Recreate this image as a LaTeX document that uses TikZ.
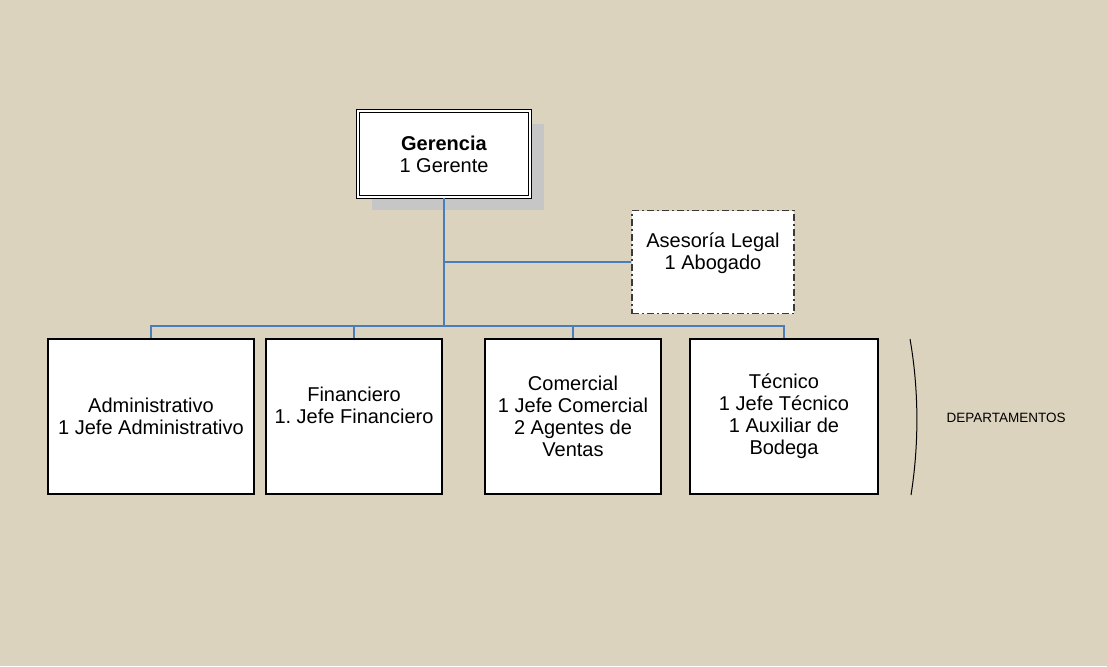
\documentclass[tikz,border=0pt]{standalone}
\usepackage{fontspec}
\setmainfont{Liberation Sans}
\usetikzlibrary{shadows}
\frenchspacing

\definecolor{paper}{HTML}{DCD3BF}
\definecolor{linkblue}{HTML}{4A7EBB}
\definecolor{shadowgray}{HTML}{C6C6C6}
\definecolor{dashgray}{HTML}{3A3A3A}

\tikzset{
  dept/.style={draw=black, fill=white, line width=1.3pt, inner sep=0pt,
    minimum width=#1, minimum height=155pt, align=center,
    font=\fontsize{20}{22}\selectfont},
  link/.style={draw=linkblue, line width=1.5pt},
}

\begin{document}
\begin{tikzpicture}[x=1pt,y=-1pt]
            % draw background
            \fill[paper] (0,0) rectangle (1107,666);

            % place top box and legal advice
            \node[draw=black, fill=white, line width=1pt, double, double distance=2pt,
                  inner sep=0pt, minimum width=172pt, minimum height=86pt, align=center,
                  font=\fontsize{20}{22}\selectfont,
                  general shadow={fill=shadowgray, shadow xshift=14pt, shadow yshift=-13pt}]
                (ger) at (444,154) {\textbf{Gerencia}\\1 Gerente};
            \node[draw=dashgray, fill=white, line width=1.5pt,
                  dash pattern=on 7pt off 3pt on 2pt off 3pt,
                  inner sep=0pt, minimum width=162pt, minimum height=103pt, align=center,
                  font=\fontsize{20}{22}\selectfont]
                (ase) at (713,262) {Asesoría Legal\\1 Abogado\\\mbox{}};

            % place departments
            \node[dept=206pt] (adm) at (151,416.5) {Administrativo\\1 Jefe Administrativo};
            \node[dept=176pt] (fin) at (354,416.5) {Financiero\\1. Jefe Financiero\\\mbox{}};
            \node[dept=176pt] (com) at (573,416.5) {Comercial\\1 Jefe Comercial\\2 Agentes de\\Ventas};
            \node[dept=188pt, line width=2.8pt] (tec) at (784,416.5) {Técnico\\1 Jefe Técnico\\1 Auxiliar de\\Bodega};

            % draw connectors
            \coordinate (bus) at (444,326);
            \draw[link] (ger.south) -- (bus);
            \draw[link] (ger.south |- ase.west) -- (ase.west);
            \draw[link] (adm.north) |- (bus) -| (tec.north);
            \draw[link] (fin.north) -- (fin.north |- bus);
            \draw[link] (com.north) -- (com.north |- bus);

            % draw bracket and its label
            \coordinate (brtop) at (910,339);
            \coordinate (brbot) at (911,495);
            \draw[line width=1pt] (brtop) .. controls (919,390) and (919,445) .. (brbot);
            \node[font=\fontsize{13.5}{15}\selectfont] (dep) at (1006,418) {DEPARTAMENTOS};
\end{tikzpicture}
\end{document}
